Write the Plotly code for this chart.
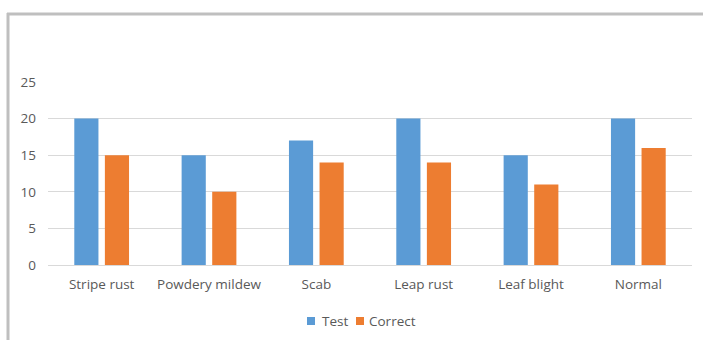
import plotly.graph_objects as go

categories = ["Stripe rust", "Powdery mildew", "Scab", "Leap rust", "Leaf blight", "Normal"]
test_counts = [20, 15, 17, 20, 15, 20]
correct_counts = [15, 10, 14, 14, 11, 16]
y_ticks = [0, 5, 10, 15, 20, 25]
series_names = ["Test", "Correct"]

BLUE = "#5B9BD5"
ORANGE = "#ED7D31"
TEXT = "#595959"
GRID = "#D9D9D9"
FONT = "Open Sans"
FS = 13.5

fig = go.Figure()
fig.add_trace(go.Bar(name=series_names[0], x=categories, y=test_counts,
                     marker_color=BLUE, marker_line_width=0, showlegend=False))
fig.add_trace(go.Bar(name=series_names[1], x=categories, y=correct_counts,
                     marker_color=ORANGE, marker_line_width=0, showlegend=False))

W, H = 703, 340
ml, mr, mt, mb = 48, 11, 82, 75
pw, ph = W - ml - mr, H - mt - mb

def px(x):
    return (x - ml) / pw

def py(y):
    return (H - mb - y) / ph

# frame lines along the top and left edges
shapes = [
    dict(type="line", xref="paper", yref="paper",
         x0=px(7), x1=px(W + 2), y0=py(14), y1=py(14),
         line=dict(color="#BFBFBF", width=3)),
    dict(type="line", xref="paper", yref="paper",
         x0=px(8), x1=px(8), y0=py(13), y1=py(H + 2),
         line=dict(color="#BFBFBF", width=3)),
]
annotations = []

# compact legend below the plot: small square swatch followed by the series name
legend_items = [(series_names[0], BLUE, 307, 320), (series_names[1], ORANGE, 356, 367)]
for name, color, sx, tx in legend_items:
    shapes.append(dict(type="rect", xref="paper", yref="paper",
                       x0=px(sx), x1=px(sx + 8), y0=py(317), y1=py(325),
                       fillcolor=color, line=dict(width=0)))
    annotations.append(dict(text=name, xref="paper", yref="paper",
                            x=px(tx), y=py(321), xanchor="left", yanchor="middle",
                            showarrow=False, font=dict(family=FONT, size=FS, color=TEXT)))

fig.update_layout(
    width=W, height=H,
    margin=dict(l=ml, r=mr, t=mt, b=mb, pad=0, autoexpand=False),
    barmode="group",
    bargap=0.43,
    bargroupgap=0.21,
    paper_bgcolor="white",
    plot_bgcolor="white",
    font=dict(family=FONT, size=FS, color=TEXT),
    showlegend=False,
    xaxis=dict(
        showgrid=False, showline=False, zeroline=False,
        ticks="", ticklabelstandoff=9,
        tickfont=dict(family=FONT, size=FS, color=TEXT),
    ),
    yaxis=dict(
        range=[0, 25], tickvals=y_ticks,
        showgrid=True, gridcolor=GRID, gridwidth=1,
        zeroline=True, zerolinecolor=GRID, zerolinewidth=1,
        showline=False, ticks="", ticklabelstandoff=11,
        tickfont=dict(family=FONT, size=FS, color=TEXT),
    ),
    shapes=shapes,
    annotations=annotations,
)

fig.write_html("out.html")
